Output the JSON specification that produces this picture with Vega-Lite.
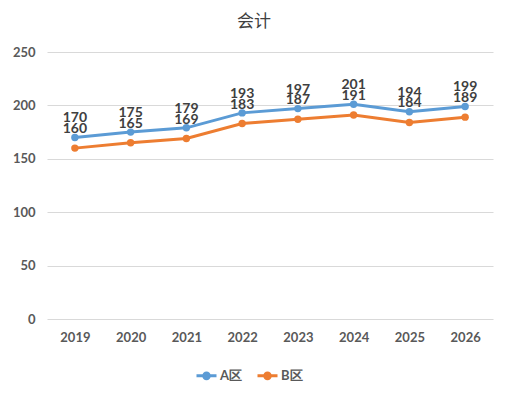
{
  "$schema": "https://vega.github.io/schema/vega-lite/v6.json",
  "autosize": {"type": "none"},
  "width": 446,
  "height": 267,
  "padding": {"left": 47, "top": 52, "right": 15, "bottom": 79},
  "background": "white",
  "title": {"text": "会计", "font": "Noto Sans CJK SC", "fontSize": 17, "fontWeight": "normal", "color": "#404040", "dx": -16, "offset": 15},
  "data": {"values": [
    {"year": "2019", "region": "A区", "value": 170},
    {"year": "2020", "region": "A区", "value": 175},
    {"year": "2021", "region": "A区", "value": 179},
    {"year": "2022", "region": "A区", "value": 193},
    {"year": "2023", "region": "A区", "value": 197},
    {"year": "2024", "region": "A区", "value": 201},
    {"year": "2025", "region": "A区", "value": 194},
    {"year": "2026", "region": "A区", "value": 199},
    {"year": "2019", "region": "B区", "value": 160},
    {"year": "2020", "region": "B区", "value": 165},
    {"year": "2021", "region": "B区", "value": 169},
    {"year": "2022", "region": "B区", "value": 183},
    {"year": "2023", "region": "B区", "value": 187},
    {"year": "2024", "region": "B区", "value": 191},
    {"year": "2025", "region": "B区", "value": 184},
    {"year": "2026", "region": "B区", "value": 189}
  ]},
  "encoding": {
    "x": {"field": "year", "type": "ordinal", "scale": {"type": "point", "padding": 0.5},
      "axis": {"title": null, "labelAngle": 0, "domain": false, "ticks": false, "labelPadding": 12, "labelFont": "Lato", "labelFontWeight": "bold", "labelFontSize": 13, "labelColor": "#595959"}},
    "y": {"field": "value", "type": "quantitative", "scale": {"domain": [0, 250]},
      "axis": {"title": null, "values": [0, 50, 100, 150, 200, 250], "domain": false, "ticks": false, "labelPadding": 12, "gridColor": "#d9d9d9", "labelFont": "Lato", "labelFontWeight": "bold", "labelFontSize": 13, "labelColor": "#595959"}},
    "color": {"field": "region", "type": "nominal", "scale": {"domain": ["A区", "B区"], "range": ["#5B9BD5", "#ED7D31"]},
      "legend": {"title": null, "orient": "none", "legendX": 148, "legendY": 312, "direction": "horizontal", "labelFont": "Lato", "labelFontWeight": "bold", "labelFontSize": 13, "labelColor": "#595959", "symbolType": "M-1,0H1M-0.28,0A0.28,0.28 0 1,0 0.28,0A0.28,0.28 0 1,0 -0.28,0Z", "symbolStrokeWidth": 3, "symbolSize": 400, "columnPadding": 8, "labelOffset": 2}}
  },
  "layer": [
    {"mark": {"type": "line", "strokeWidth": 3, "point": {"filled": true, "size": 55}}},
    {"mark": {"type": "text", "baseline": "middle", "dy": -19, "font": "Lato", "fontWeight": "bold", "fontSize": 14, "color": "#404040"},
      "encoding": {"text": {"field": "value", "type": "quantitative"}, "color": {"value": "#404040"}}}
  ],
  "config": {"view": {"stroke": null}}
}
